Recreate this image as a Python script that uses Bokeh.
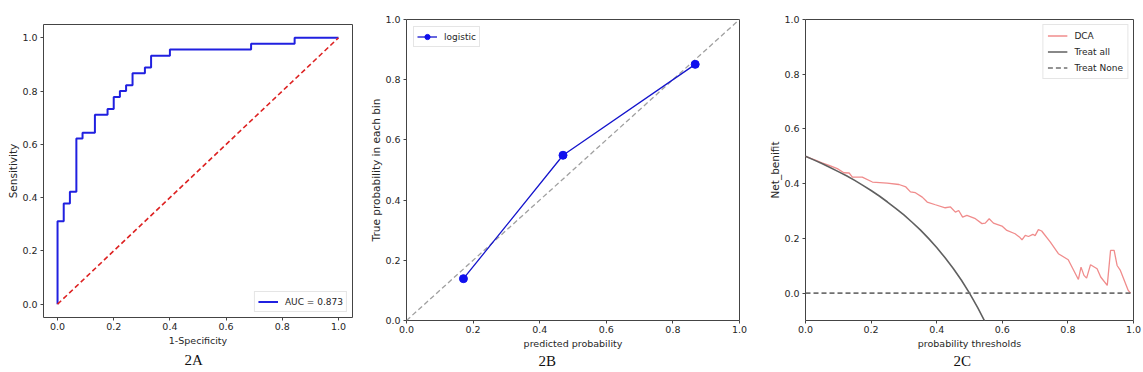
from bokeh.plotting import figure
from bokeh.layouts import row, column
from bokeh.models import FixedTicker, PrintfTickFormatter, Range1d, Title
from bokeh.embed import file_html
from bokeh.resources import INLINE

FONT = "DejaVu Sans"
SERIF = "Liberation Serif"
TICKS = [0.0, 0.2, 0.4, 0.6, 0.8, 1.0]

# ---- Panel 2A: ROC curve (corner points) ----
roc_fpr = [0.0, 0.0, 0.022, 0.022, 0.044, 0.044, 0.067, 0.067, 0.089, 0.089,
           0.133, 0.133, 0.178, 0.178, 0.2, 0.2, 0.222, 0.222, 0.244, 0.244,
           0.267, 0.267, 0.311, 0.311, 0.333, 0.333, 0.4, 0.4, 0.689, 0.689,
           0.844, 0.844, 1.0]
roc_tpr = [0.0, 0.311, 0.311, 0.378, 0.378, 0.422, 0.422, 0.622, 0.622, 0.644,
           0.644, 0.711, 0.711, 0.733, 0.733, 0.778, 0.778, 0.8, 0.8, 0.822,
           0.822, 0.867, 0.867, 0.889, 0.889, 0.933, 0.933, 0.956, 0.956, 0.978,
           0.978, 1.0, 1.0]
roc_label = "AUC = 0.873"
diag_x = [0.0, 1.0]
diag_y = [0.0, 1.0]

# ---- Panel 2B: calibration ----
cal_pred = [0.171, 0.470, 0.867]
cal_true = [0.139, 0.549, 0.851]
cal_label = "logistic"

# ---- Panel 2C: decision curve ----
dca_x = [0.0, 0.03, 0.05, 0.072, 0.097, 0.117, 0.133, 0.143, 0.173, 0.204,
         0.249, 0.285, 0.306, 0.320, 0.335, 0.356, 0.371, 0.396, 0.426, 0.442,
         0.457, 0.467, 0.479, 0.492, 0.518, 0.538, 0.548, 0.560, 0.573, 0.599,
         0.614, 0.639, 0.654, 0.660, 0.670, 0.680, 0.693, 0.700, 0.710, 0.720,
         0.746, 0.771, 0.801, 0.832, 0.840, 0.849, 0.857, 0.869, 0.889, 0.900,
         0.920, 0.930, 0.941, 0.950, 0.960, 0.984, 0.991]
dca_y = [0.500, 0.486, 0.476, 0.467, 0.455, 0.440, 0.439, 0.424, 0.424, 0.406,
         0.402, 0.397, 0.388, 0.370, 0.367, 0.351, 0.333, 0.323, 0.312, 0.315,
         0.296, 0.302, 0.278, 0.284, 0.272, 0.254, 0.256, 0.272, 0.256, 0.245,
         0.229, 0.217, 0.203, 0.195, 0.211, 0.207, 0.215, 0.210, 0.232, 0.227,
         0.187, 0.144, 0.122, 0.050, 0.095, 0.065, 0.055, 0.104, 0.089, 0.059,
         0.028, 0.156, 0.156, 0.101, 0.083, 0.010, 0.000]
all_x = [0.0, 0.025, 0.05, 0.075, 0.1, 0.125, 0.15, 0.175, 0.2, 0.225, 0.25,
         0.275, 0.3, 0.325, 0.35, 0.375, 0.4, 0.425, 0.45, 0.475, 0.5, 0.525, 0.55]
all_y = [0.5, 0.487, 0.474, 0.459, 0.444, 0.429, 0.412, 0.394, 0.375, 0.355,
         0.333, 0.310, 0.286, 0.259, 0.231, 0.2, 0.167, 0.130, 0.091, 0.048,
         0.0, -0.053, -0.111]
none_x = [0.0, 1.0]
none_y = [0.0, 0.0]
dca_labels = ["DCA", "Treat all", "Treat None"]
captions = ["2A", "2B", "2C"]

TXT = "#262626"
EDGE = "#444444"


def make_fig(width, bl, br, bt, bb, xr, yr, xlabel, ylabel):
    p = figure(width=width, height=372, x_range=Range1d(*xr), y_range=Range1d(*yr),
               output_backend="svg", toolbar_location=None, title=None,
               min_border_left=bl, min_border_right=br,
               min_border_top=bt, min_border_bottom=bb)
    p.grid.visible = False
    p.outline_line_color = EDGE
    p.outline_line_width = 1
    for ax, fs in ((p.xaxis[0], "9.5px"), (p.yaxis[0], "10.5px")):
        ax.axis_line_color = None
        ax.major_tick_line_color = EDGE
        ax.major_tick_out = 3
        ax.major_tick_in = 0
        ax.minor_tick_line_color = None
        ax.major_label_text_font = FONT
        ax.major_label_text_font_size = "9.5px"
        ax.major_label_text_color = TXT
        ax.axis_label_text_font = FONT
        ax.axis_label_text_font_size = fs
        ax.axis_label_text_font_style = "normal"
        ax.axis_label_text_color = TXT
        ax.ticker = FixedTicker(ticks=TICKS)
        ax.formatter = PrintfTickFormatter(format="%.1f")
    p.xaxis[0].major_label_standoff = 2
    p.yaxis[0].major_label_standoff = 3
    p.xaxis[0].axis_label_standoff = 2
    p.yaxis[0].axis_label_standoff = 0
    p.xaxis[0].axis_label = xlabel
    p.yaxis[0].axis_label = ylabel
    return p


def style_legend(p, location, padding, margin):
    lg = p.legend[0]
    lg.location = location
    lg.margin = margin
    lg.padding = padding
    lg.spacing = 3
    lg.glyph_width = 20
    lg.glyph_height = 13
    lg.label_height = 13
    lg.label_standoff = 7
    lg.label_text_font = FONT
    lg.label_text_font_size = "9px"
    lg.label_text_color = TXT
    lg.border_line_color = "#cccccc"
    lg.border_line_width = 1
    lg.background_fill_alpha = 0.8


def add_caption(p, text, offset, standoff):
    p.add_layout(Title(text=text, align="left", offset=offset, standoff=standoff,
                       vertical_align="middle", text_font=SERIF,
                       text_font_size="15px", text_font_style="normal",
                       text_color="#111111"), "below")


# Panel A
pA = make_fig(362, 43, 10, 24, 55, (-0.05, 1.05), (-0.05, 1.05),
              "1-Specificity", "Sensitivity")
pA.line(roc_fpr, roc_tpr, line_color="#2020e0", line_width=2, legend_label=roc_label)
pA.line(diag_x, diag_y, line_color="#dd2222", line_width=1.6, line_dash="5 3")
style_legend(pA, "bottom_right", 3, 5)
add_caption(pA, captions[0], 141, 4)

# Panel B
pB = make_fig(400, 44, 23, 19, 52, (0.0, 1.0), (0.0, 1.0),
              "predicted probability", "True probability in each bin")
pB.line(diag_x, diag_y, line_color="#a0a0a0", line_width=1.3, line_dash="5 3")
pB.line(cal_pred, cal_true, line_color="#1515cc", line_width=1.3, legend_label=cal_label)
pB.scatter(cal_pred, cal_true, size=8, fill_color="#1010ee", line_color="#1010ee",
           legend_label=cal_label)
style_legend(pB, "top_left", 3, 7)
add_caption(pB, captions[1], 132, 0)

# Panel C
pC = make_fig(381, 43, 10, 19, 52, (0.0, 1.0), (-0.1, 1.0),
              "probability thresholds", "Net_benifit")
pC.line(dca_x, dca_y, line_color="#f08c8c", line_width=1.3, legend_label=dca_labels[0])
pC.line(all_x, all_y, line_color="#606060", line_width=1.6, legend_label=dca_labels[1])
pC.line(none_x, none_y, line_color="#707070", line_width=1.6, line_dash="5 3",
        legend_label=dca_labels[2])
style_legend(pC, "top_right", 4, 5)
add_caption(pC, captions[2], 148, 0)

layout = row(column(pA), column(pB), column(pC))
open("out.html", "w").write(file_html(layout, INLINE))
